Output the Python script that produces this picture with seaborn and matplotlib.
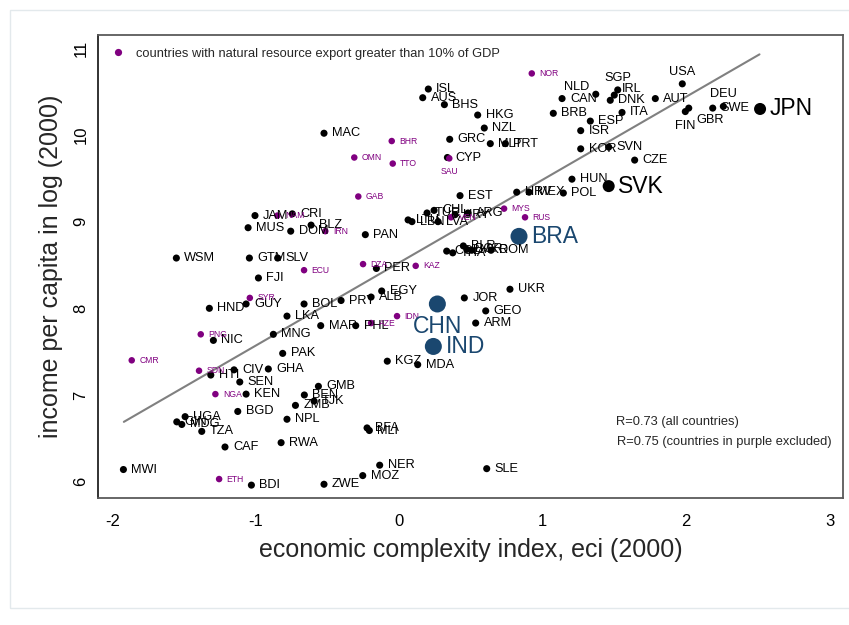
import matplotlib
matplotlib.use("Agg")
import matplotlib.pyplot as plt
import pandas as pd
import seaborn as sns
from matplotlib.lines import Line2D
from matplotlib.patches import Rectangle

# ---- data -------------------------------------------------------------
codes = [
    "ISL", "AUS", "BHS", "MAC", "GRC", "CYP", "EST", "JAM", "CRI", "MUS",
    "BLZ", "DOM", "PAN", "WSM", "GTM", "SLV", "PER", "FJI", "GUY", "HND",
    "BOL", "PRY", "ALB", "EGY", "LKA", "MAR", "PHL", "NIC", "MNG", "PAK",
    "KGZ", "MDA", "HTI", "CIV", "GHA", "SEN", "GMB", "KEN", "BEN", "TJK",
    "ZMB", "BGD", "NPL", "UGA", "GIN", "MDG", "TZA", "CAF", "RWA", "BFA",
    "MLI", "MWI", "BDI", "ZWE", "MOZ", "NER", "SLE", "NLD", "SGP", "IRL",
    "DNK", "CAN", "USA", "AUT", "BRB", "ITA", "ESP", "FIN", "GBR", "DEU",
    "SWE", "HKG", "NZL", "ISR", "MLT", "PRT", "KOR", "SVN", "CZE", "HUN",
    "HRV", "MEX", "POL", "LTU", "LBN", "TUR", "LVA", "CHL", "URY", "ARG",
    "COL", "THA", "BLR", "BGR", "MKD", "ROM", "JOR", "UKR", "GEO", "ARM",
    "NOR", "BHR", "OMN", "TTO", "SAU", "GAB", "NAM", "IRN", "ECU", "DZA",
    "KAZ", "SYR", "AZE", "IDN", "PNG", "CMR", "SDN", "NGA", "ETH", "MYS",
    "RUS", "VEN",
    "JPN", "SVK",
    "CHN", "IND", "BRA",
]
eci = [
    0.202, 0.163, 0.314, -0.525, 0.351, 0.335, 0.423, -1.006, -0.746, -1.054,
    -0.615, -0.757, -0.237, -1.554, -1.045, -0.848, -0.160, -0.982, -1.068, -1.324,
    -0.664, -0.406, -0.197, -0.123, -0.783, -0.548, -0.304, -1.296, -0.878, -0.813,
    -0.084, 0.128, -1.314, -1.152, -0.913, -1.112, -0.564, -1.068, -0.662, -0.594,
    -0.724, -1.126, -0.783, -1.493, -1.551, -1.516, -1.377, -1.215, -0.824, -0.225,
    -0.209, -1.923, -1.031, -0.525, -0.255, -0.137, 0.609, 1.369, 1.522, 1.498,
    1.470, 1.134, 1.972, 1.784, 1.073, 1.552, 1.331, 1.993, 2.017, 2.258,
    2.184, 0.546, 0.592, 1.264, 0.634, 0.739, 1.264, 1.459, 1.640, 1.203,
    0.818, 0.904, 1.143, 0.061, 0.088, 0.193, 0.270, 0.242, 0.388, 0.479,
    0.330, 0.372, 0.446, 0.470, 0.505, 0.639, 0.453, 0.771, 0.602, 0.532,
    0.923, -0.053, -0.314, -0.046, 0.348, -0.286, -0.850, -0.516, -0.664, -0.253,
    0.114, -1.042, -0.197, -0.016, -1.384, -1.865, -1.396, -1.282, -1.256, 0.730,
    0.876, 0.360,
    2.514, 1.459,
    0.265, 0.237, 0.834,
]
income = [
    10.53, 10.43, 10.35, 10.02, 9.95, 9.74, 9.30, 9.07, 9.09, 8.93,
    8.96, 8.89, 8.85, 8.58, 8.58, 8.58, 8.46, 8.35, 8.05, 8.00,
    8.05, 8.09, 8.13, 8.20, 7.91, 7.80, 7.80, 7.63, 7.70, 7.48,
    7.39, 7.35, 7.23, 7.29, 7.30, 7.15, 7.10, 7.01, 7.00, 6.93,
    6.88, 6.81, 6.72, 6.75, 6.69, 6.66, 6.58, 6.40, 6.45, 6.62,
    6.59, 6.14, 5.96, 5.97, 6.07, 6.19, 6.15, 10.47, 10.52, 10.46,
    10.40, 10.42, 10.59, 10.42, 10.25, 10.26, 10.16, 10.27, 10.31, 10.33,
    10.31, 10.23, 10.08, 10.05, 9.90, 9.90, 9.84, 9.86, 9.71, 9.49,
    9.34, 9.34, 9.33, 9.02, 9.00, 9.10, 9.00, 9.13, 9.08, 9.10,
    8.66, 8.64, 8.72, 8.68, 8.67, 8.67, 8.12, 8.22, 7.97, 7.83,
    10.71, 9.93, 9.74, 9.67, 9.73, 9.29, 9.07, 8.89, 8.44, 8.51,
    8.49, 8.12, 7.83, 7.91, 7.70, 7.40, 7.28, 7.01, 6.03, 9.15,
    9.05, 9.05,
    10.30, 9.41,
    8.05, 7.56, 8.83,
]
group = (["other"] * 100 + ["resource"] * 22 + ["large"] * 2 + ["highlight"] * 3)

# fitted line, all countries
fit_eci = [-1.92, 2.51]
fit_income = [6.69, 10.93]

x_ticks = [-2, -1, 0, 1, 2, 3]
y_ticks = [6, 7, 8, 9, 10, 11]
legend_label = "countries with natural resource export greater than 10% of GDP"
r_notes = ["R=0.73 (all countries)", "R=0.75 (countries in purple excluded)"]

df = pd.DataFrame({"code": codes, "eci": eci, "income": income, "group": group})

# ---- style ------------------------------------------------------------
sns.set_style("white")
plt.rcParams["font.family"] = ["Liberation Sans", "DejaVu Sans"]

PURPLE = "#800080"
NAVY = "#1a476f"
palette = {"other": "black", "resource": PURPLE, "large": "black", "highlight": NAVY}
sizes = {"other": 26, "resource": 22, "large": 75, "highlight": 150}
label_size = {"other": 9.2, "resource": 6.2, "large": 16.5, "highlight": 16.5}
label_gap = {"other": 8.0, "resource": 7.5, "large": 9.5, "highlight": 12.5}  # px

fig = plt.figure(figsize=(8.49, 6.25), dpi=100)
ax = fig.add_axes([98.3 / 849, 1 - 498.3 / 625, (843 - 98.3) / 849, (498.3 - 35.3) / 625])

# faint outer frame of the graph region (open on the right edge)
fig.patches.append(Rectangle((10 / 849, 1 - 608 / 625), 850 / 849, 598 / 625,
                             transform=fig.transFigure, fill=False,
                             edgecolor="#e3e9ec", lw=1.0, zorder=0))

sns.lineplot(x=fit_eci, y=fit_income, color="#808080", lw=1.5, ax=ax, zorder=1)

sns.scatterplot(data=df, x="eci", y="income", hue="group", size="group",
                palette=palette, sizes=sizes, linewidth=0, legend=False,
                ax=ax, zorder=3)

# label placement overrides: (dx px, dy px, ha)
place = {
    "SAU": (0, -12.7, "center"),
    "CHN": (0, -23, "center"),
    "NLD": (-6.5, 7, "right"),
    "USA": (0, 12, "center"),
    "SGP": (0, 12, "center"),
    "DEU": (0, 12, "center"),
    "FIN": (0, -14, "center"),
    "GBR": (8, -11.5, "left"),
    "IRL": (7.5, 6, "left"),
}
PT = 72 / 100
for c, x, y, g in zip(codes, eci, income, group):
    dx, dy, ha = place.get(c, (label_gap[g], 0, "left"))
    ax.annotate(c, (x, y), xytext=(dx * PT, dy * PT), textcoords="offset points",
                ha=ha, va="center", fontsize=label_size[g],
                color=palette[g], zorder=4)

ax.set_xlim(-2.098, 3.092)
ax.set_ylim(5.808, 11.15)
ax.set_xticks(x_ticks)
ax.set_yticks(y_ticks)
ax.set_xticklabels([str(v) for v in x_ticks])
ax.set_yticklabels([str(v) for v in y_ticks], rotation=90, va="center")
ax.tick_params(axis="both", direction="out", length=6, width=1.0,
               color="#555555", labelsize=12, labelcolor="black")
ax.tick_params(axis="x", pad=5)
ax.tick_params(axis="y", pad=1)

for side in ["top", "right", "bottom"]:
    ax.spines[side].set_color("#5a5a5a")
    ax.spines[side].set_linewidth(1.3)
ax.spines["left"].set_color("#222222")
ax.spines["left"].set_linewidth(1.3)

ax.set_xlabel("economic complexity index, eci (2000)", fontsize=18)
ax.set_ylabel("income per capita in log (2000)", fontsize=18)
ax.xaxis.label.set_va("center")
ax.yaxis.label.set_va("center")
ax.xaxis.set_label_coords(0.5, (498.3 - 550) / 463)
ax.yaxis.set_label_coords((51 - 98.3) / 744.7, 0.5)

handle = Line2D([], [], marker="o", ls="", color=PURPLE, markersize=5.2, markeredgewidth=0)
ax.legend([handle], [legend_label], loc="center left",
          bbox_to_anchor=((112.8 - 98.3) / 744.7, (498.3 - 54) / 463),
          frameon=False, fontsize=9.3, handlelength=0.8, handletextpad=1.0,
          borderpad=0, borderaxespad=0)

ax.text((616 - 98.3) / 744.7, (498.3 - 421.7) / 463, r_notes[0], transform=ax.transAxes,
        ha="left", va="center", fontsize=9.3)
ax.text((616.7 - 98.3) / 744.7, (498.3 - 441.7) / 463, r_notes[1], transform=ax.transAxes,
        ha="left", va="center", fontsize=9.3)

fig.savefig("out.png", dpi=100, facecolor="white")
